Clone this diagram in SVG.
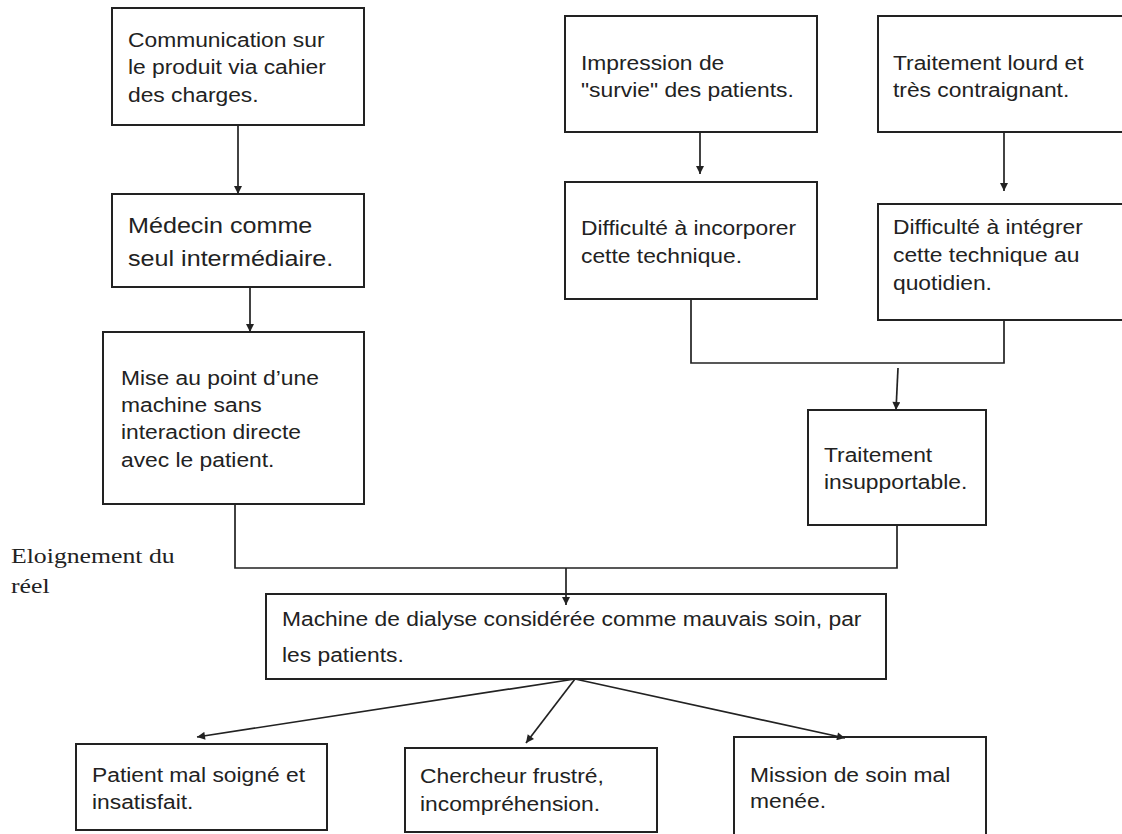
<svg xmlns="http://www.w3.org/2000/svg" width="1122" height="834" viewBox="0 0 1122 834">
<style>
.box{fill:#fff;stroke:#222;stroke-width:2}
.t{font-family:"Liberation Sans",Arial,sans-serif;font-size:19.5px;fill:#222}
.tb{font-family:"Liberation Sans",Arial,sans-serif;font-size:21.5px;fill:#222}
.ts{font-family:"Liberation Serif","Times New Roman",serif;font-size:22px;fill:#222}
.c{fill:none;stroke:#222;stroke-width:1.7}
.a{fill:none;stroke:#222;stroke-width:1.7;marker-end:url(#ah)}
</style>
<defs>
<marker id="ah" viewBox="0 0 10 10" refX="10" refY="5" markerWidth="9" markerHeight="8" markerUnits="userSpaceOnUse" orient="auto">
<path d="M0,0 L10,5 L0,10 Z" fill="#222"/>
</marker>
</defs>
<rect width="1122" height="834" fill="#fff"/>
<g id="n1">
<rect class="box" x="112" y="8" width="252" height="117"/>
<text class="t" transform="translate(128,47) scale(1.17,1)"><tspan x="0" y="0">Communication sur</tspan><tspan x="0" y="27">le produit via cahier</tspan><tspan x="0" y="55">des charges.</tspan></text>
</g>
<g id="n2">
<rect class="box" x="112" y="194" width="252" height="93"/>
<text class="tb" transform="translate(128,233) scale(1.17,1)"><tspan x="0" y="0">Médecin comme</tspan><tspan x="0" y="33">seul intermédiaire.</tspan></text>
</g>
<g id="n3">
<rect class="box" x="103" y="332" width="261" height="172"/>
<text class="t" transform="translate(121,385) scale(1.17,1)"><tspan x="0" y="0">Mise au point d’une</tspan><tspan x="0" y="27">machine sans</tspan><tspan x="0" y="54">interaction directe</tspan><tspan x="0" y="82">avec le patient.</tspan></text>
</g>
<g id="n4">
<rect class="box" x="565" y="16" width="252" height="116"/>
<text class="t" transform="translate(581,70) scale(1.17,1)"><tspan x="0" y="0">Impression de</tspan><tspan x="0" y="27">"survie" des patients.</tspan></text>
</g>
<g id="n5">
<rect class="box" x="565" y="182" width="252" height="117"/>
<text class="t" transform="translate(581,235) scale(1.17,1)"><tspan x="0" y="0">Difficulté à incorporer</tspan><tspan x="0" y="28">cette technique.</tspan></text>
</g>
<g id="n6">
<rect class="box" x="878" y="16" width="260" height="116"/>
<text class="t" transform="translate(893,70) scale(1.17,1)"><tspan x="0" y="0">Traitement lourd et</tspan><tspan x="0" y="27">très contraignant.</tspan></text>
</g>
<g id="n7">
<rect class="box" x="878" y="204" width="260" height="116"/>
<text class="t" transform="translate(893,234) scale(1.17,1)"><tspan x="0" y="0">Difficulté à intégrer</tspan><tspan x="0" y="28">cette technique au</tspan><tspan x="0" y="56">quotidien.</tspan></text>
</g>
<g id="n8">
<rect class="box" x="808" y="410" width="178" height="115"/>
<text class="t" transform="translate(824,462) scale(1.17,1)"><tspan x="0" y="0">Traitement</tspan><tspan x="0" y="27">insupportable.</tspan></text>
</g>
<g id="n9">
<rect class="box" x="266" y="594" width="620" height="85"/>
<text class="t" transform="translate(282,626) scale(1.17,1)"><tspan x="0" y="0">Machine de dialyse considérée comme mauvais soin, par</tspan><tspan x="0" y="36">les patients.</tspan></text>
</g>
<g id="n10">
<rect class="box" x="76" y="744" width="251" height="86"/>
<text class="t" transform="translate(92,782) scale(1.17,1)"><tspan x="0" y="0">Patient mal soigné et</tspan><tspan x="0" y="27">insatisfait.</tspan></text>
</g>
<g id="n11">
<rect class="box" x="405" y="748" width="252" height="84"/>
<text class="t" transform="translate(420,783) scale(1.17,1)"><tspan x="0" y="0">Chercheur frustré,</tspan><tspan x="0" y="28">incompréhension.</tspan></text>
</g>
<g id="n12">
<rect class="box" x="734" y="737" width="252" height="110"/>
<text class="t" transform="translate(750,782) scale(1.17,1)"><tspan x="0" y="0">Mission de soin mal</tspan><tspan x="0" y="26">menée.</tspan></text>
</g>
<g id="label">
<text class="ts" transform="translate(11,563) scale(1.17,1)"><tspan x="0" y="0">Eloignement du</tspan><tspan x="0" y="30">réel</tspan></text>
</g>
<g id="connectors">
<line class="a" x1="238" y1="125" x2="238" y2="194"/>
<line class="a" x1="250" y1="287" x2="250" y2="332"/>
<line class="a" x1="700" y1="132" x2="700" y2="174"/>
<line class="a" x1="1004" y1="132" x2="1004" y2="191"/>
<polyline class="c" points="691,299 691,363 1004,363 1004,320"/>
<line class="a" x1="898" y1="368" x2="896" y2="410"/>
<polyline class="c" points="897,525 897,568 235,568 235,504"/>
<line class="a" x1="566" y1="568" x2="566" y2="605"/>
<line class="a" x1="575" y1="679" x2="197" y2="737"/>
<line class="a" x1="575" y1="679" x2="526" y2="743"/>
<line class="a" x1="575" y1="679" x2="845" y2="738"/>
</g>
</svg>
